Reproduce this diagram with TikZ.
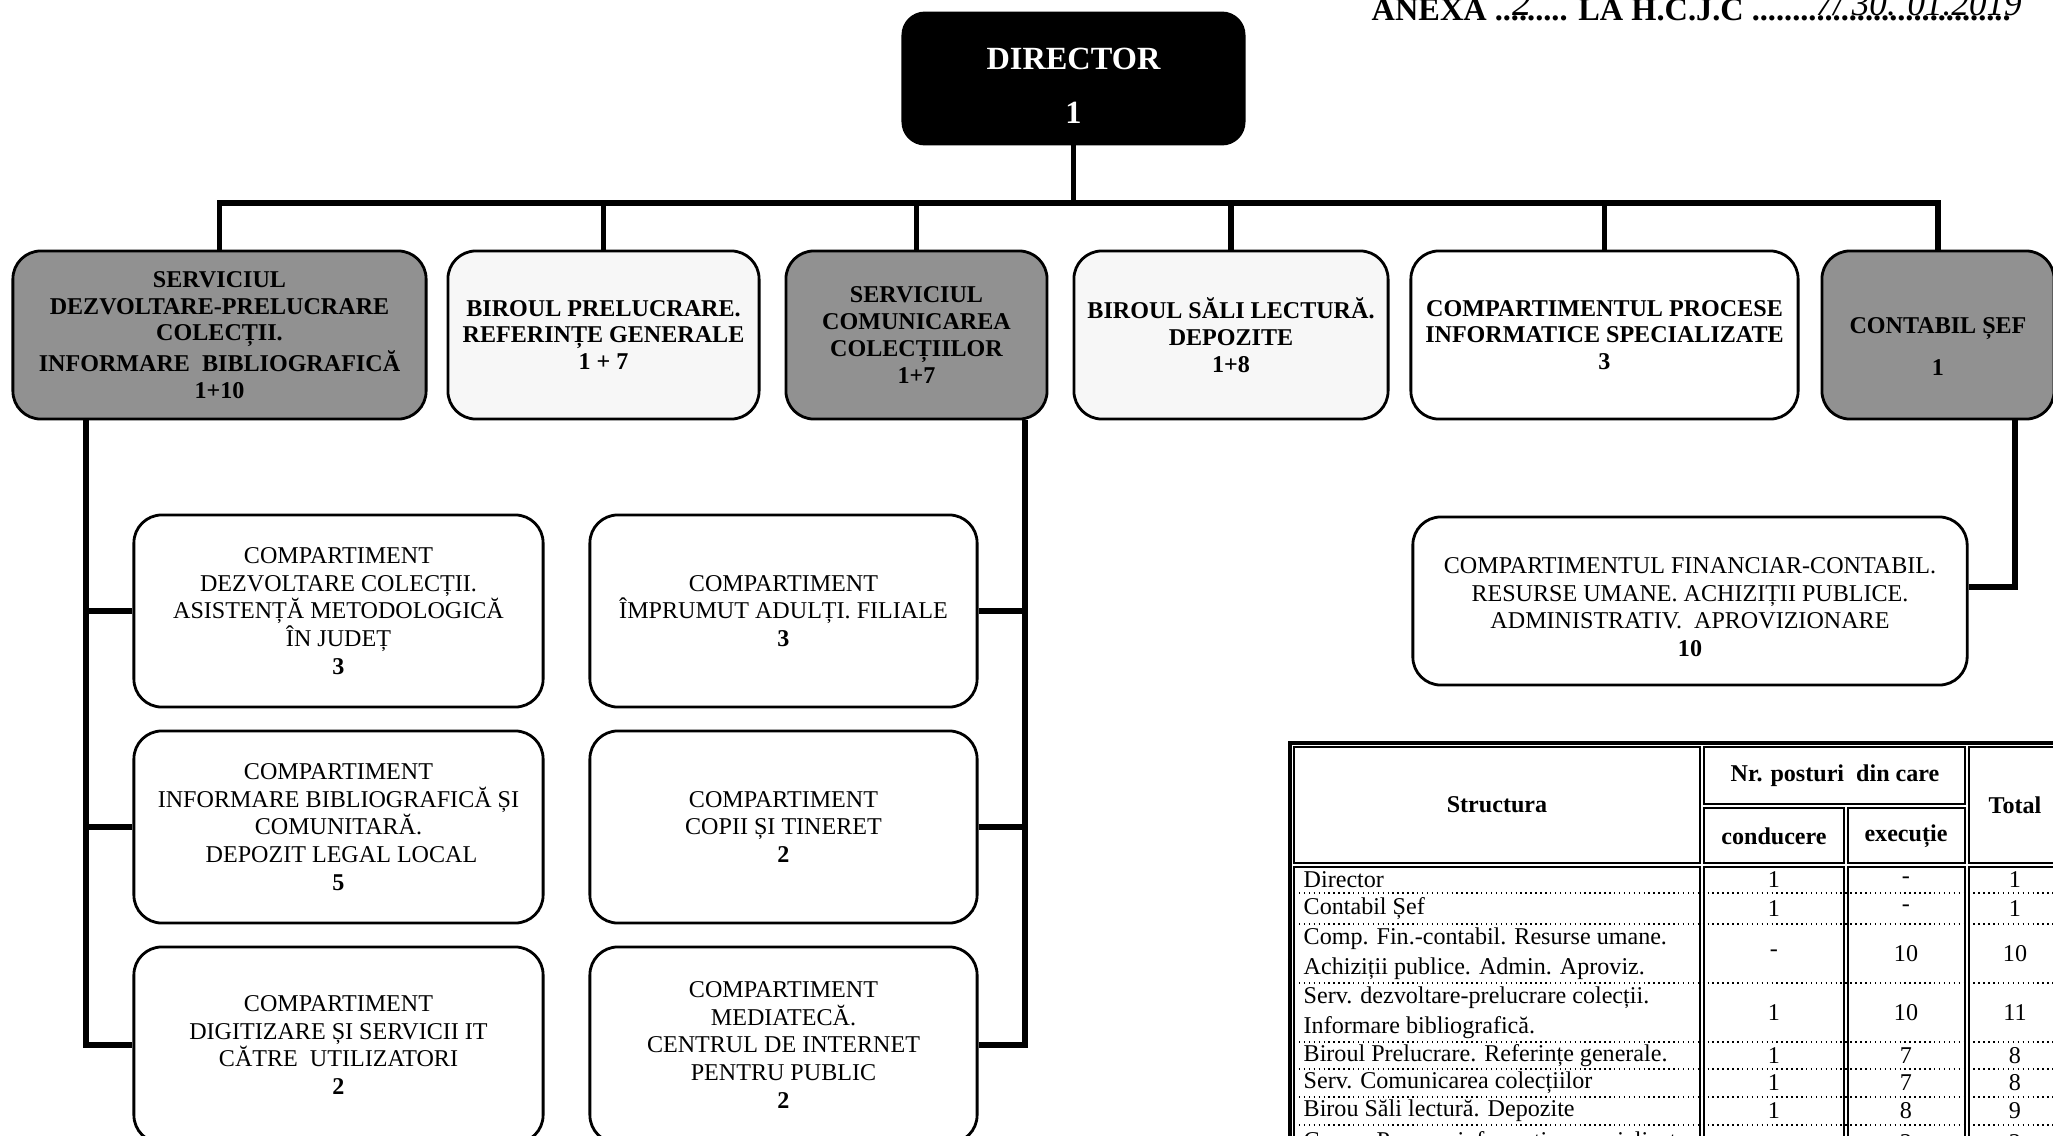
\documentclass[tikz,border=0pt]{standalone}
\usepackage{fontspec}
\setmainfont{Liberation Serif}
\definecolor{shade}{gray}{0.57}
\definecolor{faintgray}{gray}{0.97}
\begin{document}
\begin{tikzpicture}[x=0.01cm,y=-0.01cm,
  box/.style={draw,line width=.8pt,rounded corners=.28cm,align=center,inner sep=0pt,font=\fontsize{6.85}{7.9}\selectfont},
  unit/.style={box,font=\bfseries\fontsize{6.85}{7.6}\selectfont,minimum height=1.68cm},
  shaded/.style={fill=shade},
  faint/.style={fill=faintgray},
  comp/.style={box,minimum height=1.92cm},
  link/.style={line width=1.6pt},
  cell/.style={line width=.5pt},
  rowsep/.style={densely dotted,line width=.4pt},
  txt/.style={inner sep=0pt,font=\fontsize{6.85}{8.4}\selectfont},
  htxt/.style={inner sep=0pt,font=\bfseries\fontsize{6.85}{8}\selectfont}]
\useasboundingbox (0,0) rectangle (2053,1136);
\node[font=\bfseries\fontsize{9.2}{10}\selectfont,anchor=base west,inner sep=0pt] (anexa) at (1371,20) {ANEXA ......... LA H.C.J.C ................................};
\node[font=\itshape\fontsize{11}{12}\selectfont,inner sep=0pt] (anexanr) at (1522,3) {2};
\node[font=\itshape\fontsize{10}{12}\selectfont,inner sep=0pt,anchor=west] (anexadata) at (1815,4) {7/ 30. 01.2019};
\node[box,fill=black,text=white,font=\bfseries\fontsize{9.2}{10}\selectfont,minimum width=3.41cm,minimum height=1.31cm,rounded corners=.22cm] (dir) at (1073.5,78.5) {\rule{0pt}{10.2pt}DIRECTOR\\[5.4pt]1};
\node[unit,shaded,minimum width=4.13cm] (sdp) at (219.5,335) {SERVICIUL\\DEZVOLTARE-PRELUCRARE\\COLECȚII.\\INFORMARE~~BIBLIOGRAFICĂ\\1+10};
\node[unit,faint,minimum width=3.11cm] (bpr) at (603.5,335) {BIROUL PRELUCRARE.\\REFERINȚE GENERALE\\1 + 7};
\node[unit,shaded,minimum width=2.61cm] (scc) at (916.5,335) {SERVICIUL\\COMUNICAREA\\COLECȚIILOR\\1+7};
\node[unit,faint,minimum width=3.14cm] (bsl) at (1231,335) {BIROUL SĂLI LECTURĂ.\\DEPOZITE\\1+8};
\node[unit,minimum width=3.87cm] (cpi) at (1604.5,335) {COMPARTIMENTUL PROCESE\\INFORMATICE SPECIALIZATE\\3};
\node[unit,shaded,minimum width=2.32cm] (cs) at (1938,335) {\rule{0pt}{11pt}CONTABIL ȘEF\\[4.4pt]1};
\node[comp,minimum width=4.09cm] (cdc) at (338.5,611) {COMPARTIMENT\\DEZVOLTARE COLECȚII.\\ASISTENȚĂ METODOLOGICĂ\\ÎN JUDEȚ\\\textbf{3}};
\node[comp,minimum width=4.09cm] (cib) at (338.5,827) {COMPARTIMENT\\INFORMARE BIBLIOGRAFICĂ ȘI\\COMUNITARĂ.\\~DEPOZIT LEGAL LOCAL\\\textbf{5}};
\node[comp,minimum width=4.09cm,minimum height=1.96cm] (cds) at (338.5,1045) {COMPARTIMENT\\DIGITIZARE ȘI SERVICII IT\\CĂTRE~~UTILIZATORI\\\textbf{2}};
\node[comp,minimum width=3.87cm] (cia) at (783.5,611) {COMPARTIMENT\\ÎMPRUMUT ADULȚI. FILIALE\\\textbf{3}};
\node[comp,minimum width=3.87cm] (cct) at (783.5,827) {COMPARTIMENT\\COPII ȘI TINERET\\\textbf{2}};
\node[comp,minimum width=3.87cm,minimum height=1.96cm] (cmc) at (783.5,1045) {COMPARTIMENT\\MEDIATECĂ.\\CENTRUL DE INTERNET\\PENTRU PUBLIC\\\textbf{2}};
\node[box,minimum width=5.54cm,minimum height=1.68cm] (fin) at (1690,601) {\rule{0pt}{8pt}COMPARTIMENTUL FINANCIAR-CONTABIL.\\RESURSE UMANE. ACHIZIȚII PUBLICE.\\ADMINISTRATIV.~~APROVIZIONARE\\\textbf{10}};
\coordinate (bus) at (0,203);
\coordinate (trunkL) at (86,0);
\coordinate (trunkR) at (1025,0);
\coordinate (trunkC) at (2015,0);
\draw[link] (dir.south) -- (dir.south |- bus);
\draw[link] (sdp.north) |- (cs.north |- bus) -- (cs.north);
\draw[link] (bpr.north) -- (bpr.north |- bus);
\draw[link] (scc.north) -- (scc.north |- bus);
\draw[link] (bsl.north) -- (bsl.north |- bus);
\draw[link] (cpi.north) -- (cpi.north |- bus);
\draw[link] (sdp.south -| trunkL) |- (cds.west);
\draw[link] (cdc.west) -- (cdc.west -| trunkL);
\draw[link] (cib.west) -- (cib.west -| trunkL);
\draw[link] (scc.south -| trunkR) |- (cmc.east);
\draw[link] (cia.east) -- (cia.east -| trunkR);
\draw[link] (cct.east) -- (cct.east -| trunkR);
\draw[link] (cs.south -| trunkC) |- ([yshift=1.4mm]fin.east);
\draw[line width=1.1pt] (1290,743) rectangle (2075,1150);
\draw[cell] (1294,747) rectangle (1700,863);
\draw[cell] (1704,747) rectangle (1965,804);
\draw[cell] (1704,808) rectangle (1844,863);
\draw[cell] (1848,808) rectangle (1965,863);
\draw[cell] (1969,747) rectangle (2075,863);
\draw[cell] (1294,867) rectangle (1700,1150);
\draw[cell] (1704,867) rectangle (1844,1150);
\draw[cell] (1848,867) rectangle (1965,1150);
\draw[cell] (1969,867) rectangle (2075,1150);
\draw[rowsep] (1294,893) -- (2075,893) (1294,924) -- (2075,924) (1294,983) -- (2075,983) (1294,1042) -- (2075,1042);
\draw[rowsep] (1294,1069) -- (2075,1069) (1294,1097) -- (2075,1097) (1294,1125) -- (2075,1125);
\node[htxt] (hstr) at (1497,805) {Structura};
\node[htxt] (hnr) at (1835,776) {Nr. posturi~~din care};
\node[htxt] (hcon) at (1774,836) {conducere};
\node[htxt] (hexe) at (1906,836) {execuție};
\node[htxt] (htot) at (2015,805) {Total};
\node[txt,anchor=west] (r1) at (1303,880) {Director};
\node[txt] (r1c) at (1774,880) {1}; \node[txt] (r1e) at (1906,880) {-}; \node[txt] (r1t) at (2015,880) {1};
\node[txt,anchor=west] (r2) at (1303,908.5) {Contabil Șef};
\node[txt] (r2c) at (1774,908.5) {1}; \node[txt] (r2e) at (1906,908.5) {-}; \node[txt] (r2t) at (2015,908.5) {1};
\node[txt,anchor=west,align=left] (r3) at (1303,953.5) {Comp. Fin.-contabil. Resurse umane.\\Achiziții publice. Admin. Aproviz.};
\node[txt] (r3c) at (1774,953.5) {-}; \node[txt] (r3e) at (1906,953.5) {10}; \node[txt] (r3t) at (2015,953.5) {10};
\node[txt,anchor=west,align=left] (r4) at (1303,1012.5) {Serv. dezvoltare-prelucrare colecții.\\Informare bibliografică.};
\node[txt] (r4c) at (1774,1012.5) {1}; \node[txt] (r4e) at (1906,1012.5) {10}; \node[txt] (r4t) at (2015,1012.5) {11};
\node[txt,anchor=west] (r5) at (1303,1055.5) {Biroul Prelucrare. Referințe generale.};
\node[txt] (r5c) at (1774,1055.5) {1}; \node[txt] (r5e) at (1906,1055.5) {7}; \node[txt] (r5t) at (2015,1055.5) {8};
\node[txt,anchor=west] (r6) at (1303,1083) {Serv. Comunicarea colecțiilor};
\node[txt] (r6c) at (1774,1083) {1}; \node[txt] (r6e) at (1906,1083) {7}; \node[txt] (r6t) at (2015,1083) {8};
\node[txt,anchor=west] (r7) at (1303,1111) {Birou Săli lectură. Depozite};
\node[txt] (r7c) at (1774,1111) {1}; \node[txt] (r7e) at (1906,1111) {8}; \node[txt] (r7t) at (2015,1111) {9};
\node[txt,anchor=west] (r8) at (1303,1143) {Comp. Procese informatice specializate};
\node[txt] (r8c) at (1774,1143) {-}; \node[txt] (r8e) at (1906,1143) {3}; \node[txt] (r8t) at (2015,1143) {3};
\end{tikzpicture}
\end{document}
